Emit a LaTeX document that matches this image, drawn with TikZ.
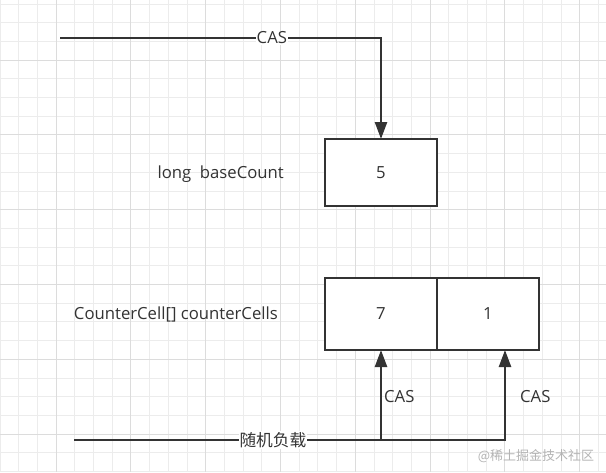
\documentclass[tikz,border=0pt]{standalone}
\usepackage{fontspec}
\setmainfont{Open Sans}
\newfontfamily\cjk{Noto Sans CJK SC}
\usetikzlibrary{arrows.meta, positioning, backgrounds}
\definecolor{inkgray}{RGB}{51,51,51}
\definecolor{gridminor}{RGB}{236,236,236}
\definecolor{gridmajor}{RGB}{220,220,220}
\definecolor{markgray}{RGB}{180,180,180}
\newcommand{\diagfont}{\fontsize{16.7}{19}\selectfont}
\tikzset{
  cellbox/.style={rectangle, draw=inkgray, line width=2.8pt, fill=white,
                  minimum width=#1, text=inkgray, font=\diagfont,
                  inner sep=0pt, outer sep=0pt},
  varname/.style={text=inkgray, font=\diagfont, inner sep=0pt},
  link/.style={-{Triangle[length=17pt, width=12pt]}, line width=2.4pt, color=inkgray},
  edgelbl/.style={fill=white, text=inkgray, font=\diagfont, inner sep=1pt},
  caslbl/.style={text=inkgray, font=\diagfont, inner sep=2pt, anchor=west},
  gridline/.style={draw=gridminor, line width=0.8pt},
  gridbold/.style={draw=gridmajor, line width=1pt},
}

\begin{document}
\begin{tikzpicture}[x=1pt, y=-1pt]
  \fill[white] (0,0) rectangle (606,472);
  \useasboundingbox (0,0) rectangle (606,472);
  % grid
  \foreach \k in {0,...,32} \draw[gridline] ({-0.1+18.7*\k},0) -- ++(0,472);
  \foreach \k in {0,...,25} \draw[gridline] (0,{3.9+18.7*\k}) -- ++(606,0);
  \foreach \k in {3,7,...,31} \draw[gridbold] ({-0.1+18.7*\k},0) -- ++(0,472);
  \foreach \k in {3,7,...,23} \draw[gridbold] (0,{3.9+18.7*\k}) -- ++(606,0);

  \node[cellbox=112pt, minimum height=67pt] (base) at (381,172.5) {5};
  \node[varname, left=41pt of base, yshift=-1.5pt] (basename) {long~~baseCount};

  \node[cellbox=112pt, minimum height=72pt] (seven) at (381,314) {7};
  \node[cellbox=102pt, minimum height=72pt, anchor=west] (one) at (seven.east) {1};
  \node[varname, left=47pt of seven] (cellsname) {CounterCell[] counterCells};

  \coordinate (topin) at (60,38);
  \coordinate (loadin) at (74,440);
  \coordinate (fork) at (seven.south |- loadin);

  \draw[link] (topin) -| (base.north) node[edgelbl, pos=0.33] {CAS};
  \draw[link] (loadin) -| (seven.south)
    node[edgelbl, pos=0.324] {\cjk 随机负载}
    node[caslbl, pos=0.74] {CAS};
  \draw[link] (fork) -| ([xshift=17pt]one.south)
    node[caslbl, pos=0.74, xshift=12pt] {CAS};

  \node[text=markgray, font=\fontsize{13}{15}\selectfont\cjk] (mark) at (536,456) {@稀土掘金技术社区};
\end{tikzpicture}
\end{document}
